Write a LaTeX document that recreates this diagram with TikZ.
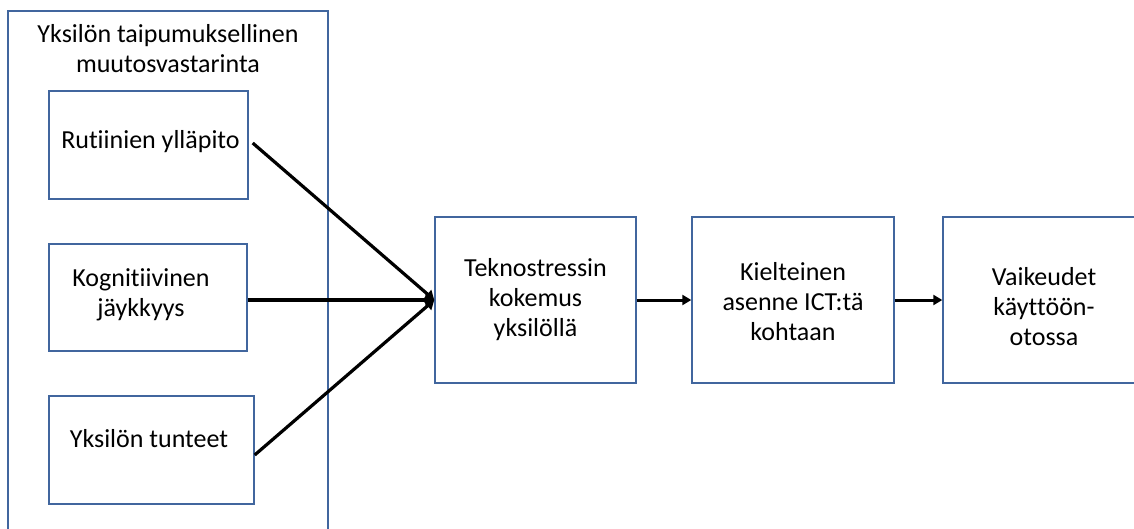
\documentclass[tikz,border=0pt]{standalone}
\usepackage{fontspec}
\setmainfont{Carlito}[Ligatures=NoCommon]
\usetikzlibrary{arrows.meta,calc}
\definecolor{boxblue}{HTML}{41669E}
\begin{document}
\begin{tikzpicture}[x=1pt,y=-1pt,
  box/.style={draw=boxblue,line width=1.4pt,inner sep=0pt},
  lbl/.style={font=\fontsize{26}{30}\selectfont,align=center,inner sep=0pt},
  link/.style={line width=3.2pt,-{Triangle[length=9pt,width=11pt]}},
  flow/.style={line width=3pt,-{Triangle[length=9pt,width=10pt]}}]
\useasboundingbox (0,0) rectangle (1134,528);
% group frame (runs past the lower edge)
\node[box,minimum width=320pt,minimum height=529pt] (grp) at (168,275.5) {};
\node[lbl] (grpt) at (168,48.5) {Yksilön taipumuksellinen\\muutosvastarinta};
% inner factors
\node[box,minimum width=199pt,minimum height=108pt] (rut) at (148.5,145) {};
\node[lbl] (rutt) at (150.5,141.5) {Rutiinien ylläpito};
\node[box,minimum width=198pt,minimum height=107pt] (kog) at (148,297.5) {};
\node[lbl] (kogt) at (141,295) {Kognitiivinen\\jäykkyys};
\node[box,minimum width=205pt,minimum height=108pt] (tun) at (151.5,450) {};
\node[lbl] (tunt) at (149,439) {Yksilön tunteet};
% chain
\node[box,minimum width=201pt,minimum height=166pt] (tek) at (535.5,300) {};
\node[lbl] (tekt) at (535.5,300) {Teknostressin\\kokemus\\yksilöllä};
\node[box,minimum width=202pt,minimum height=166pt] (kie) at (793,300) {};
\node[lbl] (kiet) at (793,302) {Kielteinen\\asenne ICT:tä\\kohtaan};
\node[box,minimum width=197pt,minimum height=166pt] (vai) at (1041.5,300) {};
\node[lbl] (vait) at (1044,307) {Vaikeudet\\käyttöön-\\otossa};
% connectors
\draw[link] ($(rut.east)+(4,-2)$) -- (tek.west);
\draw[link] (kog.east |- tek.west) -- (tek.west);
\draw[link] ($(tun.east)+(0,5)$) -- (tek.west);
\draw[flow] (tek.east) -- (kie.west);
\draw[flow] (kie.east) -- (vai.west);
\end{tikzpicture}
\end{document}
